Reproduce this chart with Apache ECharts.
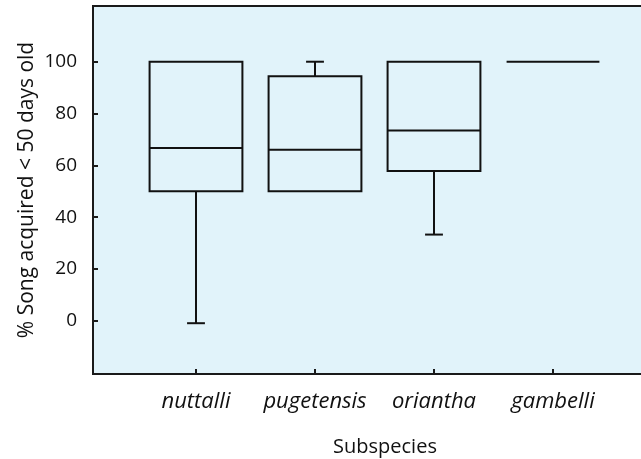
<!DOCTYPE html>
<html>
<head>
<meta charset="utf-8">
<script src="https://cdn.jsdelivr.net/npm/echarts@6/dist/echarts.min.js"></script>
<style>
  html, body { margin: 0; padding: 0; background: #fff; }
  #chart { width: 641px; height: 459px; }
</style>
</head>
<body>
<div id="chart"></div>
<script>
// Song learning timing by subspecies: box-and-whisker summaries
const subspecies = ['nuttalli', 'pugetensis', 'oriantha', 'gambelli'];
const whiskerLow = [-0.9, 50, 33.3, 100];
const quartile1 = [50, 50, 57.8, 100];
const medians = [66.7, 66, 73.5, 100];
const quartile3 = [100, 94.4, 100, 100];
const whiskerHigh = [100, 100, 100, 100];
const yTicks = [0, 20, 40, 60, 80, 100];

const positions = subspecies.map((_, i) => i + 1);
const boxData = subspecies.map((_, i) => [
  positions[i], whiskerLow[i], quartile1[i], medians[i], quartile3[i], whiskerHigh[i]
]);

const INK = '#111';
const FONT = 'Open Sans';
const BOX_WIDTH = 0.78;   // in x-axis units
const CAP_WIDTH = 0.15;

function renderBox(params, api) {
  const x = api.value(0);
  const lo = api.value(1), q1 = api.value(2), med = api.value(3),
        q3 = api.value(4), hi = api.value(5);
  const halfBox = api.size([BOX_WIDTH, 0])[0] / 2;
  const halfCap = api.size([CAP_WIDTH, 0])[0] / 2;
  const pLo = api.coord([x, lo]);
  const pQ1 = api.coord([x, q1]);
  const pMed = api.coord([x, med]);
  const pQ3 = api.coord([x, q3]);
  const pHi = api.coord([x, hi]);
  const cx = pMed[0];
  const style = { stroke: INK, lineWidth: 2, fill: null };
  const line = (x1, y1, x2, y2) => ({
    type: 'line', shape: { x1, y1, x2, y2 }, style
  });
  const children = [];
  if (lo < q1) {
    children.push(line(cx, pQ1[1], cx, pLo[1]));
    children.push(line(cx - halfCap, pLo[1], cx + halfCap, pLo[1]));
  }
  if (hi > q3) {
    children.push(line(cx, pQ3[1], cx, pHi[1]));
    children.push(line(cx - halfCap, pHi[1], cx + halfCap, pHi[1]));
  }
  if (q3 > q1) {
    children.push({
      type: 'rect',
      shape: { x: cx - halfBox, y: pQ3[1], width: halfBox * 2, height: pQ1[1] - pQ3[1] },
      style
    });
  }
  children.push(line(cx - halfBox, pMed[1], cx + halfBox, pMed[1]));
  return { type: 'group', children };
}

const chart = echarts.init(document.getElementById('chart'), null, { renderer: 'canvas' });
chart.setOption({
  animation: false,
  backgroundColor: '#ffffff',
  grid: {
    left: 93, top: 6, width: 584, height: 368,
    outerBoundsMode: 'none',
    containLabel: false,
    show: true,
    backgroundColor: '#e1f3fa',
    borderColor: '#1a1a1a',
    borderWidth: 2
  },
  xAxis: {
    type: 'value',
    min: 0.1345,
    max: 5.042,
    name: 'Subspecies',
    nameLocation: 'middle',
    nameGap: 63,
    nameMoveOverlap: false,
    nameTextStyle: { fontFamily: FONT, fontSize: 20, color: '#111' },
    splitLine: { show: false },
    axisLine: { show: true, onZero: false, lineStyle: { color: '#1a1a1a', width: 2 } },
    axisTick: { show: true, inside: true, length: 5, lineStyle: { color: '#1a1a1a', width: 2 },
                customValues: positions },
    axisLabel: {
      customValues: positions,
      margin: 17,
      fontFamily: FONT, fontSize: 22, fontStyle: 'italic', color: '#111',
      formatter: v => subspecies[Math.round(v) - 1] || ''
    }
  },
  yAxis: {
    type: 'value',
    min: -20.5,
    max: 121.5,
    name: '% Song acquired < 50 days old',
    nameLocation: 'middle',
    nameGap: 55,
    nameMoveOverlap: false,
    nameTextStyle: { fontFamily: FONT, fontSize: 21, color: '#111' },
    splitLine: { show: false },
    axisLine: { show: true, onZero: false, lineStyle: { color: '#1a1a1a', width: 2 } },
    axisTick: { show: true, inside: true, length: 5, lineStyle: { color: '#1a1a1a', width: 2 },
                customValues: yTicks },
    axisLabel: {
      customValues: yTicks,
      margin: 16,
      fontFamily: FONT, fontSize: 19, color: '#111'
    }
  },
  series: [{
    type: 'custom',
    renderItem: renderBox,
    encode: { x: 0, y: [1, 2, 3, 4, 5] },
    data: boxData,
    clip: false
  }]
});
</script>
</body>
</html>
